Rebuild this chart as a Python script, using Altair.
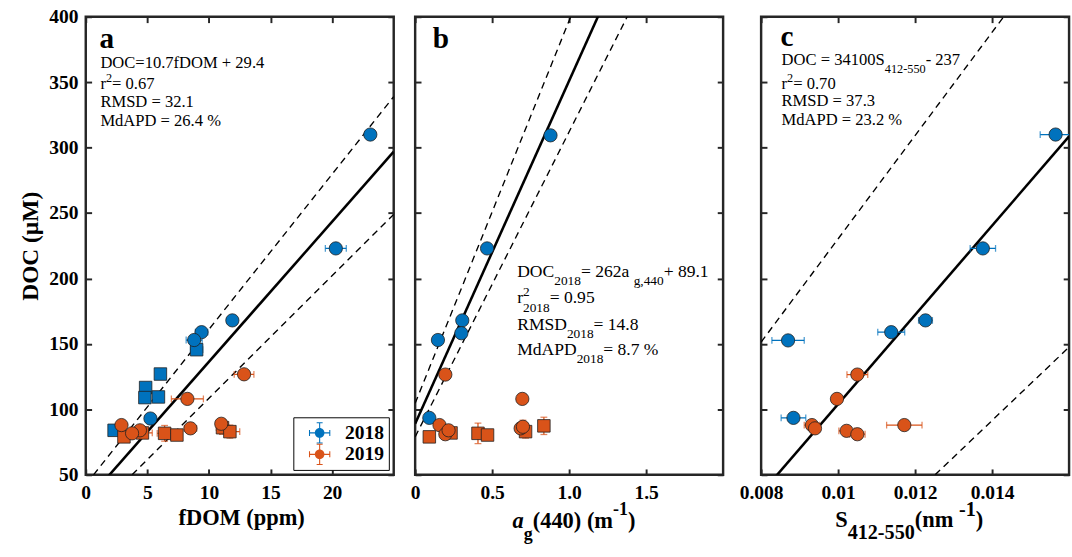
import altair as alt
import pandas as pd

FONT = "Liberation Serif, Times New Roman, serif"
BLUE = "#0072BD"
ORANGE = "#D95319"
EDGE = "#1f1f1f"
FRAME = "#262626"
W, H = 316, 470
YDOM = [50, 400]
YVALS = [50, 100, 150, 200, 250, 300, 350, 400]

# ---------------- data: panel a (fDOM) ----------------
a18c_x = [23.1, 20.3, 11.9, 9.4, 8.8, 5.25]
a18c_y = [310, 223, 168, 159, 153, 93]
a18c_xe = [0.4, 0.85, 0.4, 0.5, 0.65, 0.3]
a18s_x = [9.0, 6.06, 4.86, 4.8, 5.9, 2.3]
a18s_y = [145.6, 127, 116.7, 109, 109.5, 84]
a18s_xe = [0.5, 0.0, 0.0, 0.0, 0.0, 0.3]
a19c_x = [12.85, 8.25, 2.9, 4.4, 3.76, 8.5, 11.0]
a19c_y = [126.8, 108, 88, 84, 81.7, 85.5, 89]
a19c_xe = [0.8, 1.3, 0.4, 0.5, 0.5, 0.5, 0.4]
a19c_ye = [0, 0, 0, 0, 0, 0, 4]
a19s_x = [3.1, 4.6, 6.4, 7.4, 11.1, 11.7]
a19s_y = [79, 82, 81.7, 80.4, 86, 83]
a19s_xe = [0.4, 0.8, 0.6, 0.3, 0.5, 0.8]
a19s_ye = [3, 2, 6, 2, 5, 5]
a_fit = [10.7, 29.4]
a_upper = [[0.63, 50], [25, 339]]
a_lower = [[3.76, 50], [25, 249]]

# ---------------- data: panel b (ag440) ----------------
b18c_x = [0.879, 0.467, 0.306, 0.30, 0.148, 0.092]
b18c_y = [309.4, 223, 168, 158.2, 153, 93.5]
b19c_x = [0.196, 0.696, 0.158, 0.196, 0.685, 0.70, 0.217]
b19c_y = [126.6, 108, 88, 81, 85.5, 86.7, 84]
b19c_ye = [0, 0, 0, 0, 0, 5, 0]
b19s_x = [0.092, 0.233, 0.408, 0.47, 0.717, 0.836]
b19s_y = [79, 82, 81.7, 80.4, 83, 87.4]
b19s_ye = [0, 2, 7.8, 0, 5, 6.6]
b_fit = [262, 89.1]
b_upper = [[0, 104.7], [1.01, 400]]
b_lower = [[0, 79], [1.377, 400]]

# ---------------- data: panel c (S412-550) ----------------
c18c_x = [0.01565, 0.01376, 0.01227, 0.01138, 0.0087, 0.00884]
c18c_y = [310, 223, 168, 159, 152.7, 93.5]
c18c_xe = [0.0004, 0.00033, 0.00018, 0.00035, 0.00042, 0.00032]
c19c_x = [0.0105, 0.00997, 0.00932, 0.0094, 0.01022, 0.0105, 0.01172]
c19c_y = [126.6, 108, 88, 85.5, 83.6, 81, 88]
c19c_xe = [0.00027, 0.0, 0.0002, 0.0, 0.0002, 0.0002, 0.00046]
c_fit = [34100, -237]
c_upper = [[0.008, 151.4], [0.0143, 400]]
c_lower = [[0.01252, 50], [0.016, 147.6]]

YEARS = ["2018", "2019"]
CSCALE = alt.Scale(domain=YEARS, range=[BLUE, ORANGE])

# Times metrics (1/1000 em) for placing sub/superscripts
TR = {' ': 250, '%': 833, '(': 333, ')': 333, '+': 564, ',': 250, '-': 333, '.': 250, '=': 564,
      'A': 722, 'C': 667, 'D': 722, 'M': 889, 'O': 722, 'P': 556, 'R': 667, 'S': 556,
      'a': 444, 'd': 500, 'f': 333, 'g': 500, 'r': 333, 'm': 778, 'n': 500, 'p': 500}
TB = {' ': 250, '(': 333, ')': 333, '-': 333, '.': 250, 'C': 722, 'D': 722, 'M': 944, 'O': 778,
      'S': 556, 'a': 500, 'f': 333, 'g': 500, 'm': 833, 'n': 556, 'p': 556}
for _d in "0123456789":
    TR[_d] = 500
    TB[_d] = 500


def tw(s, size, bold=False):
    t = TB if bold else TR
    return sum(t.get(c, 500) for c in s) * size / 1000.0


DUMMY = alt.Data(values=[{"k": 0}])


def rich(parts, x0, y0, size, bold=False, sub_scale=0.74, sub_shift=0.45, sup_shift=0.42,
         align="left"):
    pieces = []
    x = 0.0
    for p in parts:
        kind = p[0]
        if kind in ("n", "i"):
            pieces.append((p[1], x, 0, size, kind == "i"))
            x += tw(p[1], size, bold)
        elif kind == "sub":
            s = size * sub_scale
            pieces.append((p[1], x, size * sub_shift, s, False))
            x += tw(p[1], s, bold)
        elif kind == "sup":
            s = size * sub_scale
            pieces.append((p[1], x, -size * sup_shift, s, False))
            x += tw(p[1], s, bold)
        elif kind == "ss":
            s = size * sub_scale
            pieces.append((p[1], x, -size * sup_shift, s, False))
            pieces.append((p[2], x, size * sub_shift, s, False))
            x += max(tw(p[1], s, bold), tw(p[2], s, bold))
    start = x0 - x / 2 if align == "center" else x0
    out = []
    for text, dx, dy, fs, it in pieces:
        out.append(
            alt.Chart(DUMMY).mark_text(
                text=text, font=FONT, fontSize=fs,
                fontWeight="bold" if bold else "normal",
                fontStyle="italic" if it else "normal",
                align="left", baseline="alphabetic", color="black",
            ).encode(x=alt.value(start + dx), y=alt.value(y0 + dy))
        )
    return out


def make_df(groups):
    rows = []
    for year, shape, xs, ys, xe, ye in groups:
        for i in range(len(xs)):
            rows.append({"x": xs[i], "y": ys[i],
                         "xe": xe[i] if xe else 0.0, "ye": ye[i] if ye else 0.0,
                         "year": year, "shape": shape})
    return pd.DataFrame(rows)


def make_lines(fit, upper, lower, xdom):
    rows = [{"x": xdom[0], "y": fit[0] * xdom[0] + fit[1], "kind": "fit"},
            {"x": xdom[1], "y": fit[0] * xdom[1] + fit[1], "kind": "fit"}]
    for name, seg in (("upper", upper), ("lower", lower)):
        for px, py in seg:
            rows.append({"x": px, "y": py, "kind": name})
    return pd.DataFrame(rows)


PATH = ("M-0.45,0A0.45,0.45 0 1,1 0.45,0A0.45,0.45 0 1,1 -0.45,0Z"
        "M-1,-0.05L1,-0.05L1,0.05L-1,0.05Z"
        "M-0.05,-1L0.05,-1L0.05,1L-0.05,1Z"
        "M-1,-0.28L-0.9,-0.28L-0.9,0.28L-1,0.28Z"
        "M0.9,-0.28L1,-0.28L1,0.28L0.9,0.28Z"
        "M-0.28,-1L0.28,-1L0.28,-0.9L-0.28,-0.9Z"
        "M-0.28,0.9L0.28,0.9L0.28,1L-0.28,1Z")

LEGEND = alt.Legend(
    title=None, orient="bottom-right", offset=5, symbolType=PATH, symbolSize=480,
    symbolOpacity=1, symbolOffset=11,
    labelFont=FONT, labelFontSize=20, labelFontWeight="bold", labelColor="black",
    strokeColor="black", fillColor="white", padding=5, rowPadding=0, labelOffset=15,
    cornerRadius=0, symbolStrokeWidth=0)


def panel(df, lines, xdom, xvals, xlabelexpr, ylabels, texts, legend):
    xs = alt.Scale(domain=xdom, nice=False, zero=False)
    ys = alt.Scale(domain=YDOM, nice=False, zero=False)
    bottom = alt.Axis(orient="bottom", values=xvals, labelExpr=xlabelexpr, title=None)
    top = alt.Axis(orient="top", values=xvals, labels=False, title=None)
    if ylabels:
        left = alt.Axis(orient="left", values=YVALS, title="DOC (µM)", titlePadding=6,
                        titleFontSize=24)
    else:
        left = alt.Axis(orient="left", values=YVALS, labels=False, title=None)
    right = alt.Axis(orient="right", values=YVALS, labels=False, title=None)

    col = alt.Color("year:N", scale=CSCALE, legend=LEGEND if legend else None)

    fit = alt.Chart(lines[lines.kind == "fit"]).mark_line(
        color="black", strokeWidth=2.6, clip=True
    ).encode(x=alt.X("x:Q", scale=xs, axis=top), y=alt.Y("y:Q", scale=ys, axis=right))
    dash = alt.Chart(lines[lines.kind != "fit"]).mark_line(
        color="black", strokeWidth=1.4, strokeDash=[7, 5], clip=True
    ).encode(x=alt.X("x:Q", scale=xs, axis=None), y=alt.Y("y:Q", scale=ys, axis=None),
             detail="kind:N")

    layers = [fit, dash]

    hx = df[df.xe > 0].copy()
    if len(hx):
        hx["lo"] = hx.x - hx.xe
        hx["hi"] = hx.x + hx.xe
        caps = pd.concat([hx.assign(cx=hx.lo), hx.assign(cx=hx.hi)])
        layers.append(alt.Chart(hx).mark_rule(strokeWidth=1.3, clip=True).encode(
            x=alt.X("lo:Q", scale=xs, axis=None), x2="hi:Q",
            y=alt.Y("y:Q", scale=ys, axis=None), color=col))
        layers.append(alt.Chart(caps).mark_tick(orient="vertical", size=7, thickness=1.3,
                                                 clip=True).encode(
            x=alt.X("cx:Q", scale=xs, axis=None), y=alt.Y("y:Q", scale=ys, axis=None),
            color=col))
    vy = df[df.ye > 0].copy()
    if len(vy):
        vy["lo"] = vy.y - vy.ye
        vy["hi"] = vy.y + vy.ye
        caps = pd.concat([vy.assign(cy=vy.lo), vy.assign(cy=vy.hi)])
        layers.append(alt.Chart(vy).mark_rule(strokeWidth=1.3).encode(
            x=alt.X("x:Q", scale=xs, axis=None),
            y=alt.Y("lo:Q", scale=ys, axis=None), y2="hi:Q", color=col))
        layers.append(alt.Chart(caps).mark_tick(orient="horizontal", size=7,
                                                 thickness=1.3).encode(
            x=alt.X("x:Q", scale=xs, axis=None), y=alt.Y("cy:Q", scale=ys, axis=None),
            color=col))

    sq = df[df["shape"] == "square"]
    if len(sq):
        layers.append(alt.Chart(sq).mark_point(
            shape="square", filled=True, size=165, stroke=EDGE, strokeWidth=0.8, opacity=1
        ).encode(x=alt.X("x:Q", scale=xs, axis=None), y=alt.Y("y:Q", scale=ys, axis=None),
                 color=col))
    ci = df[df["shape"] == "circle"]
    layers.append(alt.Chart(ci).mark_point(
        shape="circle", filled=True, size=185, stroke=EDGE, strokeWidth=0.8, opacity=1
    ).encode(x=alt.X("x:Q", scale=xs, axis=bottom), y=alt.Y("y:Q", scale=ys, axis=left),
             color=col))
    layers += texts
    return alt.layer(*layers).properties(width=W, height=H).resolve_axis(
        x="independent", y="independent")


# ---------------- panels ----------------
dfa = make_df([("2018", "circle", a18c_x, a18c_y, a18c_xe, None),
               ("2018", "square", a18s_x, a18s_y, a18s_xe, None),
               ("2019", "circle", a19c_x, a19c_y, a19c_xe, a19c_ye),
               ("2019", "square", a19s_x, a19s_y, a19s_xe, a19s_ye)])
dfb = make_df([("2018", "circle", b18c_x, b18c_y, None, None),
               ("2019", "circle", b19c_x, b19c_y, None, b19c_ye),
               ("2019", "square", b19s_x, b19s_y, None, b19s_ye)])
dfc = make_df([("2018", "circle", c18c_x, c18c_y, c18c_xe, None),
               ("2019", "circle", c19c_x, c19c_y, c19c_xe, None)])

TY = H + 52  # baseline of x titles, below the plot

ta = []
ta += rich([("n", "a")], 14, 32, 30, bold=True)
ta += rich([("n", "DOC=10.7fDOM + 29.4")], 15, 53, 17)
ta += rich([("n", "r"), ("sup", "2"), ("n", " = 0.67")], 15, 74, 17)
ta += rich([("n", "RMSD = 32.1")], 15, 92.5, 17)
ta += rich([("n", "MdAPD = 26.4 %")], 15, 112, 17)
ta += rich([("n", "fDOM (ppm)")], 160, TY, 23, bold=True, align="center")

tb = []
tb += rich([("n", "b")], 18, 32, 30, bold=True)
tb += rich([("n", "DOC"), ("sub", "2018"), ("n", " = 262a"), ("sub", "g,440"), ("n", " + 89.1")],
           104.7, 267, 18, sub_scale=0.76, sub_shift=0.48)
tb += rich([("n", "r"), ("ss", "2", "2018"), ("n", " = 0.95")], 104.7, 294, 18,
           sub_scale=0.76, sub_shift=0.48)
tb += rich([("n", "RMSD"), ("sub", "2018"), ("n", " = 14.8")], 104.7, 321, 18,
           sub_scale=0.76, sub_shift=0.48)
tb += rich([("n", "MdAPD"), ("sub", "2018"), ("n", " = 8.7 %")], 104.7, 347, 18,
           sub_scale=0.76, sub_shift=0.48)
tb += rich([("i", "a"), ("sub", "g"), ("n", "(440) (m"), ("sup", "-1"), ("n", ")")],
           163, TY + 3, 23, bold=True, sub_scale=0.8, sub_shift=0.5, sup_shift=0.6,
           align="center")

tc = []
tc += rich([("n", "c")], 20, 30, 30, bold=True)
tc += rich([("n", "DOC = 34100S"), ("sub", "412-550"), ("n", " - 237")], 21, 50, 17)
tc += rich([("n", "r"), ("sup", "2"), ("n", " = 0.70")], 21, 74, 17)
tc += rich([("n", "RMSD = 37.3")], 21, 92, 17)
tc += rich([("n", "MdAPD = 23.2 %")], 21, 111, 17)
tc += rich([("n", "S"), ("sub", "412-550"), ("n", " (nm"), ("sup", "-1"), ("n", ")")],
           152, TY + 2, 23, bold=True, sub_scale=0.9, sub_shift=0.5, sup_shift=0.5,
           align="center")

pa = panel(dfa, make_lines(a_fit, a_upper, a_lower, [0, 25]), [0, 25], [0, 5, 10, 15, 20],
           "datum.label", True, ta, True)
pb = panel(dfb, make_lines(b_fit, b_upper, b_lower, [0, 2]), [0, 2], [0, 0.5, 1, 1.5],
           "datum.value == 0 ? '0' : format(datum.value, '.1f')", False, tb, False)
pc = panel(dfc, make_lines(c_fit, c_upper, c_lower, [0.008, 0.016]), [0.008, 0.016],
           [0.008, 0.01, 0.012, 0.014], "format(datum.value, '~g')", False, tc, False)

chart = alt.hconcat(pa, pb, pc, spacing=12).resolve_scale(color="independent").resolve_legend(
    color="independent"
).properties(
    padding={"left": 18, "top": -2, "right": 0, "bottom": 0}, background="white"
).configure_axis(
    domain=False, grid=False, ticks=True, tickColor=FRAME, tickWidth=2, tickSize=6, offset=-6,
    labelFont=FONT, labelFontSize=20, labelFontWeight="bold", labelColor="black",
    labelPadding=8, labelFlush=False, labelOverlap=False,
    titleFont=FONT, titleFontSize=23, titleFontWeight="bold", titleColor="black"
).configure_view(stroke=FRAME, strokeWidth=2.5)

chart.save("out.html", embed_options={"renderer": "svg", "actions": False})
